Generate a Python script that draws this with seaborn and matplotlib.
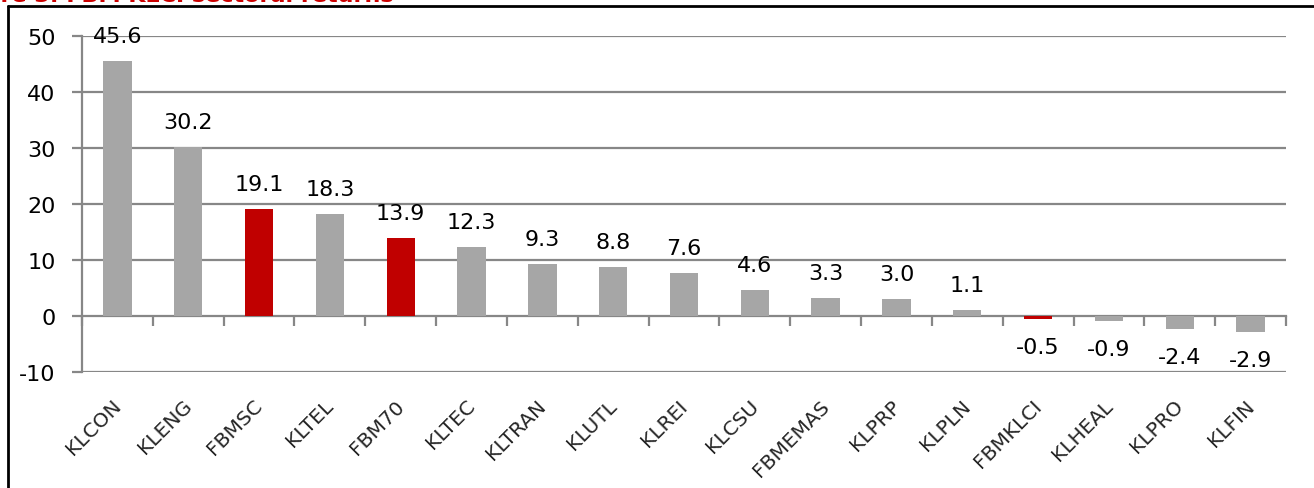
import matplotlib
matplotlib.use("Agg")
import matplotlib.pyplot as plt
import matplotlib.transforms as mtransforms
from matplotlib.lines import Line2D
import seaborn as sns
import pandas as pd

categories = ["KLCON", "KLENG", "FBMSC", "KLTEL", "FBM70", "KLTEC", "KLTRAN", "KLUTL",
              "KLREI", "KLCSU", "FBMEMAS", "KLPRP", "KLPLN", "FBMKLCI", "KLHEAL", "KLPRO", "KLFIN"]
returns = [45.6, 30.2, 19.1, 18.3, 13.9, 12.3, 9.3, 8.8, 7.6, 4.6, 3.3, 3.0, 1.1, -0.5, -0.9, -2.4, -2.9]
highlight = ["FBMSC", "FBM70", "FBMKLCI"]
y_ticks = [-10, 0, 10, 20, 30, 40, 50]
title = "Figure 3: FBM KLCI sectoral returns"

GRAY = "#A6A6A6"
RED = "#C00000"
LINE = "#878787"

sns.set_theme(style="white")
plt.rcParams["font.family"] = ["DejaVu Sans"]

df = pd.DataFrame({"cat": categories, "val": returns})
palette = {c: (RED if c in highlight else GRAY) for c in categories}

fig = plt.figure(figsize=(13.14, 4.89), dpi=100)
ax = fig.add_axes([82 / 1314, 1 - 373 / 489, (1286 - 82) / 1314, (373 - 37) / 489])

sns.barplot(data=df, x="cat", y="val", hue="cat", palette=palette, legend=False,
            width=0.4, saturation=1, linewidth=0, ax=ax, zorder=3)

ax.set_xlim(-0.5, len(categories) - 0.5)
ax.set_ylim(-10, 50)
ax.set_yticks(y_ticks)
ax.set_yticklabels([str(v) for v in y_ticks], fontsize=16, color="black")
ax.set_xlabel("")
ax.set_ylabel("")

for y in y_ticks:
    if y != 0:
        ax.axhline(y, color=LINE, lw=1.6, zorder=1)

for s in ["top", "right", "bottom"]:
    ax.spines[s].set_visible(False)
ax.spines["left"].set_color(LINE)
ax.spines["left"].set_linewidth(1.6)
ax.tick_params(axis="y", which="major", left=True, length=7, width=1.6, color=LINE, pad=12)

ax.set_xticks(range(len(categories)))
ax.set_xticklabels(categories, rotation=45, ha="right", rotation_mode="anchor", fontsize=14.5)
ax.tick_params(axis="x", which="major", bottom=False, length=0, pad=17)
shift = mtransforms.ScaledTranslation(-6 / 100, 0, fig.dpi_scale_trans)
for lab in ax.get_xticklabels():
    lab.set_transform(lab.get_transform() + shift)

# zero line with tick marks between categories
sec = ax.secondary_xaxis(10 / 60)
sec.spines["bottom"].set_color(LINE)
sec.spines["bottom"].set_linewidth(1.6)
sec.set_xticks([i - 0.5 for i in range(len(categories) + 1)])
sec.set_xticklabels([])
sec.tick_params(axis="x", length=7, width=1.6, color=LINE, direction="out")

for i, v in enumerate(returns):
    off = 25 if v >= 0 else -28
    ax.annotate(f"{v:.1f}", (i, v), xytext=(0, off), textcoords="offset pixels",
                ha="center", va="center", fontsize=16, color="black", zorder=5)

# outer frame
fig.add_artist(Line2D([8 / 1314, 1.0], [1 - 7 / 489, 1 - 7 / 489], transform=fig.transFigure,
                      color="black", lw=2))
fig.add_artist(Line2D([8 / 1314, 8 / 1314], [0, 1 - 7 / 489], transform=fig.transFigure,
                      color="black", lw=2))

fig.text(-54 / 1314, 1 - 1.5 / 489, title, color="#CC0000", fontsize=16, fontweight="bold",
         ha="left", va="baseline")

fig.savefig("out.png", dpi=100)
